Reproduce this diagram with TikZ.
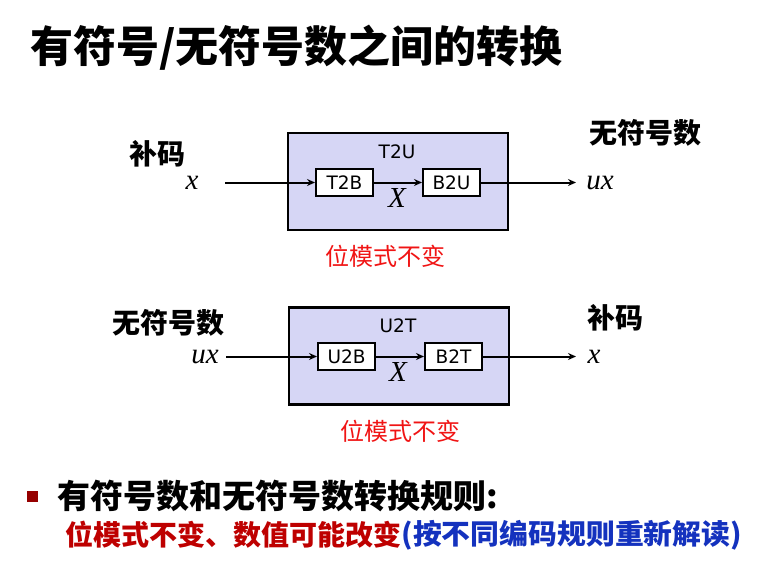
\documentclass[tikz,border=0pt]{standalone}
\usepackage{fontspec}
\setmainfont{DejaVu Sans}
\newfontfamily\cjk{Noto Sans CJK SC}
\newfontfamily\tms{Liberation Serif}
\usetikzlibrary{arrows.meta,positioning}

\definecolor{boxfill}{RGB}{214,214,245}
\definecolor{bitred}{RGB}{240,20,20}
\definecolor{ruleRed}{RGB}{190,0,0}
\definecolor{ruleBlue}{RGB}{20,50,190}
\definecolor{bullet}{RGB}{150,0,0}

\tikzset{
  convbox/.style={draw, line width=2.6pt, fill=boxfill, minimum width=220pt, minimum height=97pt},
  funcbox/.style={draw, line width=2pt, fill=white, minimum width=57pt, minimum height=27pt, inner sep=0pt, font=\fontsize{18.5}{18.5}\selectfont},
  boxname/.style={font=\fontsize{18.5}{18.5}\selectfont},
  var/.style={font=\tms\itshape\fontsize{29}{29}\selectfont},
  kind/.style={font=\cjk\bfseries\fontsize{28}{28}\selectfont},
  keep/.style={text=bitred, font=\cjk\fontsize{24}{24}\selectfont},
  flow/.style={-{Stealth[length=8pt,width=7pt]}, line width=2pt},
}

\begin{document}
\begin{tikzpicture}[x=1pt, y=-1pt]
  \useasboundingbox (0,0) rectangle (767,575);
  % title
  \node[anchor=west, inner sep=0pt, font=\cjk\bfseries\fontsize{43}{43}\selectfont] (title) at (30,48) {有符号/无符号数之间的转换};

  % two's complement -> unsigned
  \node[convbox] (t2u) at (398,181.5) {};
  \node[boxname] (t2ulab) at (397,152) {T2U};
  \node[funcbox] (t2b) at (344.5,182.5) {T2B};
  \node[funcbox] (b2u) at (451.5,182.5) {B2U};
  \coordinate (in1) at (225,182.5);
  \coordinate (out1) at (576,182.5);
  \node[var] (x1) at (192,183) {x};
  \node[var] (ux1) at (600,183) {ux};
  \node[kind] (tc1) at (157,154) {补码};
  \node[kind] (un1) at (645,133) {无符号数};
  \node[var] (bits1) at (397,198) {X};
  \node[keep] (keep1) at (385,256) {位模式不变};
  \draw[flow] (in1) -- (t2b);
  \draw[flow] (t2b) -- (b2u);
  \draw[flow] (b2u) -- (out1);

  % unsigned -> two's complement
  \node[convbox] (u2t) at (399,356) {};
  \node[boxname] (u2tlab) at (398,326) {U2T};
  \node[funcbox] (u2b) at (346.5,356.5) {U2B};
  \node[funcbox] (b2t) at (453.5,356.5) {B2T};
  \coordinate (in2) at (226,356.5);
  \coordinate (out2) at (576,356.5);
  \node[var] (ux2) at (205,357) {ux};
  \node[var] (x2) at (594,357) {x};
  \node[kind] (un2) at (168,323) {无符号数};
  \node[kind] (tc2) at (615,318) {补码};
  \node[var] (bits2) at (398,372) {X};
  \node[keep] (keep2) at (400,431) {位模式不变};
  \draw[flow] (in2) -- (u2b);
  \draw[flow] (u2b) -- (b2t);
  \draw[flow] (b2t) -- (out2);

  % rule
  \node[fill=bullet, minimum size=11pt, inner sep=0pt] (dot) at (32,496) {};
  \node[anchor=west, inner sep=0pt, font=\cjk\bfseries\fontsize{33}{33}\selectfont] (rule) at (57,496) {有符号数和无符号数转换规则:};
  \node[anchor=west, inner sep=0pt, text=ruleRed, font=\cjk\bfseries\fontsize{28}{28}\selectfont] (rulea) at (65,535) {位模式不变、数值可能改变};
  \node[anchor=west, inner sep=0pt, text=ruleBlue, xscale=1.03, font=\cjk\bfseries\fontsize{28}{28}\selectfont] (ruleb) at (rulea.east) {(按不同编码规则重新解读)};
\end{tikzpicture}
\end{document}
